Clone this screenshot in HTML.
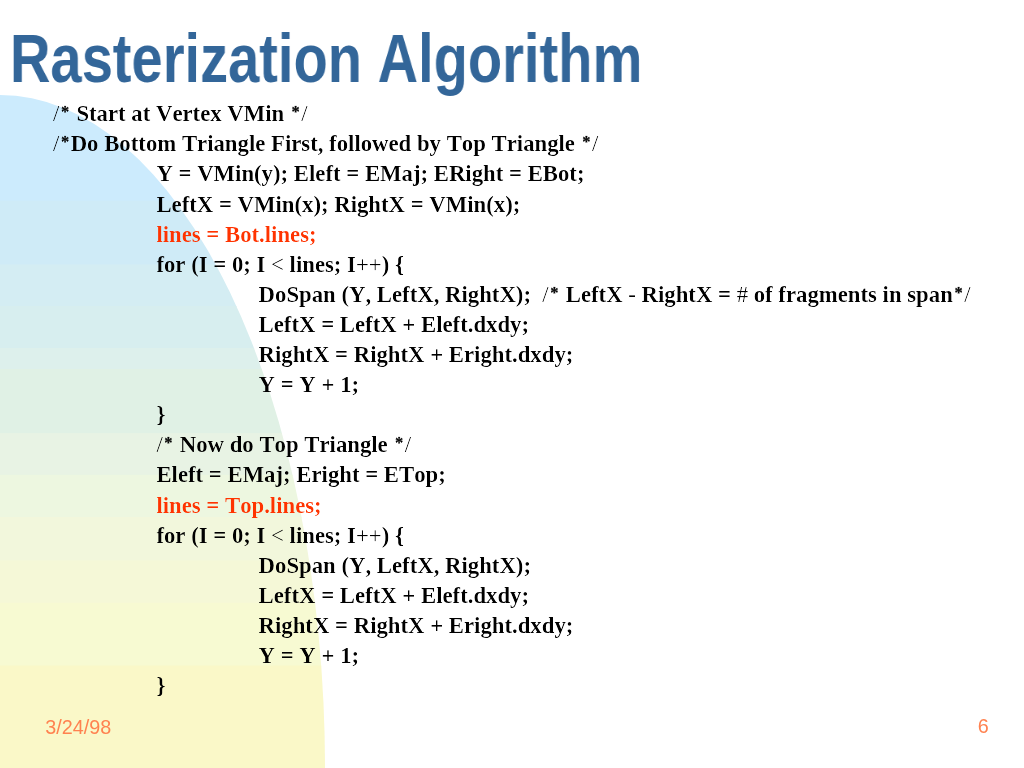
<!DOCTYPE html>
<html><head><meta charset="utf-8"><title>Rasterization Algorithm</title>
<style>
html,body{margin:0;padding:0;background:#fff;}
body{width:1024px;height:768px;position:relative;overflow:hidden;font-family:"Liberation Serif",serif;}
#txt{position:absolute;left:0;top:0;width:1024px;height:768px;will-change:transform;}
#bg{position:absolute;left:0;top:0;width:1024px;height:768px;}
#title{position:absolute;left:10px;top:19.29px;margin:0;font:bold 69px/80px "Liberation Sans",sans-serif;color:#336699;white-space:pre;transform-origin:0 0;transform:scaleX(0.8124);will-change:transform;font-kerning:none;}
.l{filter:url(#thin);position:absolute;font:bold 22.75px/30px "Liberation Serif",serif;color:#000;white-space:pre;height:30px;font-kerning:none;}
.l i{font-style:normal;font-weight:normal;}
.l u{text-decoration:none;font-weight:bold;font-size:16.5px;padding:0 1.5px 0 1.62px;position:relative;top:-4.1px;-webkit-text-stroke:0.45px #000;}
.r{color:#ff3300;}
.f{position:absolute;font:19.8px/24px "Liberation Sans",sans-serif;color:#ff8250;white-space:pre;}
</style></head><body>
<svg id="bg" width="1024" height="768" viewBox="0 0 1024 768">
<defs><filter id="thin" x="0" y="0" width="100%" height="100%" color-interpolation-filters="sRGB"><feComponentTransfer><feFuncA type="gamma" amplitude="1" exponent="1.7" offset="0"/></feComponentTransfer></filter><clipPath id="c"><path d="M0,95 A325,673 0 0 1 325,768 L0,768 Z"/></clipPath></defs>
<g clip-path="url(#c)">
<rect x="0" y="95" width="330" height="106.7" fill="#ccebfd"/>
<rect x="0" y="200.7" width="330" height="64.7" fill="#cfebf7"/>
<rect x="0" y="264.4" width="330" height="42.5" fill="#d4edf3"/>
<rect x="0" y="305.9" width="330" height="43.1" fill="#d7eeef"/>
<rect x="0" y="348.0" width="330" height="22.1" fill="#ddf0ec"/>
<rect x="0" y="369.1" width="330" height="65.0" fill="#e0f1e5"/>
<rect x="0" y="433.1" width="330" height="42.8" fill="#e8f3e4"/>
<rect x="0" y="474.9" width="330" height="43.2" fill="#edf7e0"/>
<rect x="0" y="517.1" width="330" height="44.2" fill="#f2f7dc"/>
<rect x="0" y="560.3" width="330" height="43.5" fill="#f5f8d7"/>
<rect x="0" y="602.8" width="330" height="63.7" fill="#f7fad2"/>
<rect x="0" y="665.5" width="330" height="103.5" fill="#faf8c8"/>
</g>
</svg>
<h1 id="title">Rasterization Algorithm</h1>
<div id="txt">
<div class="l" id="l0" style="left:53px;top:99.27px"><i>/<u>*</u></i> Start at Vertex VMin <i><u>*</u>/</i></div>
<div class="l" id="l1" style="left:53px;top:129.37px"><i>/<u>*</u></i>Do Bottom Triangle First, followed by Top Triangle <i><u>*</u>/</i></div>
<div class="l" id="l2" style="left:156.4px;top:159.47px">Y = VMin(y); Eleft = EMaj; ERight = EBot;</div>
<div class="l" id="l3" style="left:156.4px;top:189.57px">LeftX = VMin(x); RightX = VMin(x);</div>
<div class="l r" id="l4" style="left:156.4px;top:219.67px">lines = Bot.lines;</div>
<div class="l" id="l5" style="left:156.4px;top:249.77px">for (I = 0; I <i>&lt;</i> lines; I<i>++</i>) {</div>
<div class="l" id="l6" style="left:258.6px;top:279.87px">DoSpan (Y, LeftX, RightX);  <i>/<u>*</u></i> LeftX <i>-</i> RightX = <i>#</i> of fragments in span<i><u>*</u>/</i></div>
<div class="l" id="l7" style="left:258.6px;top:309.97px">LeftX = LeftX + Eleft.dxdy;</div>
<div class="l" id="l8" style="left:258.6px;top:340.07px">RightX = RightX + Eright.dxdy;</div>
<div class="l" id="l9" style="left:258.6px;top:370.17px">Y = Y + 1;</div>
<div class="l" id="l10" style="left:156.4px;top:400.27px">}</div>
<div class="l" id="l11" style="left:156.4px;top:430.37px"><i>/<u>*</u></i> Now do Top Triangle <i><u>*</u>/</i></div>
<div class="l" id="l12" style="left:156.4px;top:460.47px">Eleft = EMaj; Eright = ETop;</div>
<div class="l r" id="l13" style="left:156.4px;top:490.57px">lines = Top.lines;</div>
<div class="l" id="l14" style="left:156.4px;top:520.67px">for (I = 0; I <i>&lt;</i> lines; I<i>++</i>) {</div>
<div class="l" id="l15" style="left:258.6px;top:550.77px">DoSpan (Y, LeftX, RightX);</div>
<div class="l" id="l16" style="left:258.6px;top:580.87px">LeftX = LeftX + Eleft.dxdy;</div>
<div class="l" id="l17" style="left:258.6px;top:610.97px">RightX = RightX + Eright.dxdy;</div>
<div class="l" id="l18" style="left:258.6px;top:641.07px">Y = Y + 1;</div>
<div class="l" id="l19" style="left:156.4px;top:671.17px">}</div>
<div class="f" id="date" style="left:45.2px;top:714.5px">3/24/98</div>
<div class="f" id="pg" style="left:977.8px;top:714.4px">6</div>
</div>
</body></html>
